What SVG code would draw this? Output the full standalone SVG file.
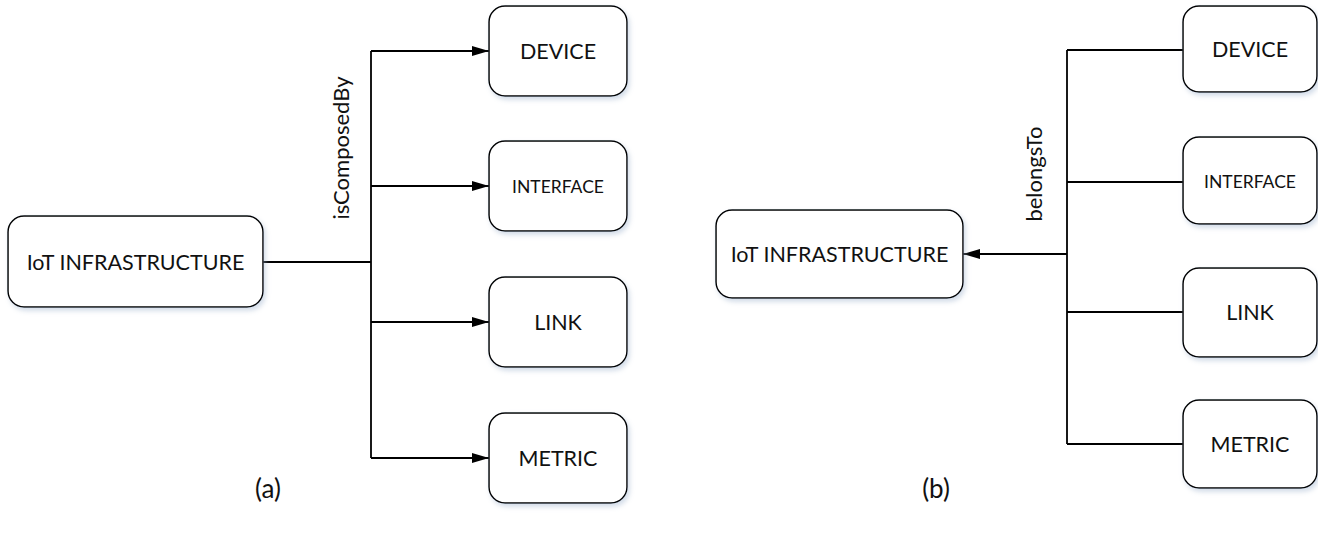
<svg xmlns="http://www.w3.org/2000/svg" width="1318" height="536" viewBox="0 0 1318 536">
  <defs>
    <filter id="soft" x="-10%" y="-10%" width="130%" height="140%">
      <feGaussianBlur in="SourceAlpha" stdDeviation="2.5"/>
      <feOffset dx="1.5" dy="3" result="b"/>
      <feFlood flood-color="#9bb0cc" flood-opacity="0.45"/>
      <feComposite in2="b" operator="in"/>
      <feMerge><feMergeNode/><feMergeNode in="SourceGraphic"/></feMerge>
    </filter>
    <marker id="arrow" markerUnits="userSpaceOnUse" markerWidth="18" markerHeight="12" refX="17" refY="5" orient="auto">
      <path d="M0,0 L17,5 L0,10 Z" fill="#000"/>
    </marker>
  </defs>
  <style>
    .box { fill: #fff; stroke: #000; stroke-width: 1.5; filter: url(#soft); }
    .lbl { font-family: Lato, "Liberation Sans", sans-serif; fill: #111; text-anchor: middle; dominant-baseline: central; }
    .big { font-size: 21.5px; }
    .small { font-size: 17.5px; }
    .rel { font-family: Lato, "Liberation Sans", sans-serif; font-size: 22px; fill: #111; text-anchor: middle; }
    .cap { font-family: Lato, "Liberation Sans", sans-serif; font-size: 26px; fill: #111; text-anchor: middle; }
    .wire { fill: none; stroke: #000; stroke-width: 1.8; }
  </style>

  <!-- connectors -->
  <g id="connectors">
    <!-- panel a: composition fan-out -->
    <path class="wire" d="M263,262 H371"/>
    <path class="wire" d="M371,51 V458"/>
    <path class="wire" d="M371,51 H489" marker-end="url(#arrow)"/>
    <path class="wire" d="M371,186 H489" marker-end="url(#arrow)"/>
    <path class="wire" d="M371,322 H489" marker-end="url(#arrow)"/>
    <path class="wire" d="M371,458 H489" marker-end="url(#arrow)"/>
    <text class="rel" transform="translate(349,148) rotate(-90)">isComposedBy</text>

    <!-- panel b: membership fan-in -->
    <path class="wire" d="M1067,50 V444"/>
    <path class="wire" d="M1067,50 H1183"/>
    <path class="wire" d="M1067,182 H1183"/>
    <path class="wire" d="M1067,312 H1183"/>
    <path class="wire" d="M1067,444 H1183"/>
    <path class="wire" d="M1067,254 H963" marker-end="url(#arrow)"/>
    <text class="rel" transform="translate(1042,174) rotate(-90)">belongsTo</text>
  </g>

  <!-- panel a nodes -->
  <g id="a-infrastructure">
    <rect class="box" x="8" y="216" width="255" height="91" rx="16"/>
    <text class="lbl big" x="135.5" y="262">IoT INFRASTRUCTURE</text>
  </g>
  <g id="a-device">
    <rect class="box" x="489" y="6" width="138" height="90" rx="16"/>
    <text class="lbl big" x="558" y="51">DEVICE</text>
  </g>
  <g id="a-interface">
    <rect class="box" x="489" y="141" width="138" height="90" rx="16"/>
    <text class="lbl small" x="558" y="186">INTERFACE</text>
  </g>
  <g id="a-link">
    <rect class="box" x="489" y="277" width="138" height="90" rx="16"/>
    <text class="lbl big" x="558" y="322">LINK</text>
  </g>
  <g id="a-metric">
    <rect class="box" x="489" y="413" width="138" height="90" rx="16"/>
    <text class="lbl big" x="558" y="458">METRIC</text>
  </g>

  <!-- panel b nodes -->
  <g id="b-infrastructure">
    <rect class="box" x="716" y="210" width="247" height="88" rx="16"/>
    <text class="lbl big" x="839.5" y="254">IoT INFRASTRUCTURE</text>
  </g>
  <g id="b-device">
    <rect class="box" x="1183" y="6" width="134" height="86" rx="16"/>
    <text class="lbl big" x="1250" y="49">DEVICE</text>
  </g>
  <g id="b-interface">
    <rect class="box" x="1183" y="137" width="134" height="87" rx="16"/>
    <text class="lbl small" x="1250" y="181">INTERFACE</text>
  </g>
  <g id="b-link">
    <rect class="box" x="1183" y="268" width="134" height="89" rx="16"/>
    <text class="lbl big" x="1250" y="312">LINK</text>
  </g>
  <g id="b-metric">
    <rect class="box" x="1183" y="400" width="134" height="88" rx="16"/>
    <text class="lbl big" x="1250" y="444">METRIC</text>
  </g>

  <!-- panel captions -->
  <text class="cap" x="268" y="498">(a)</text>
  <text class="cap" x="936" y="498">(b)</text>
</svg>
